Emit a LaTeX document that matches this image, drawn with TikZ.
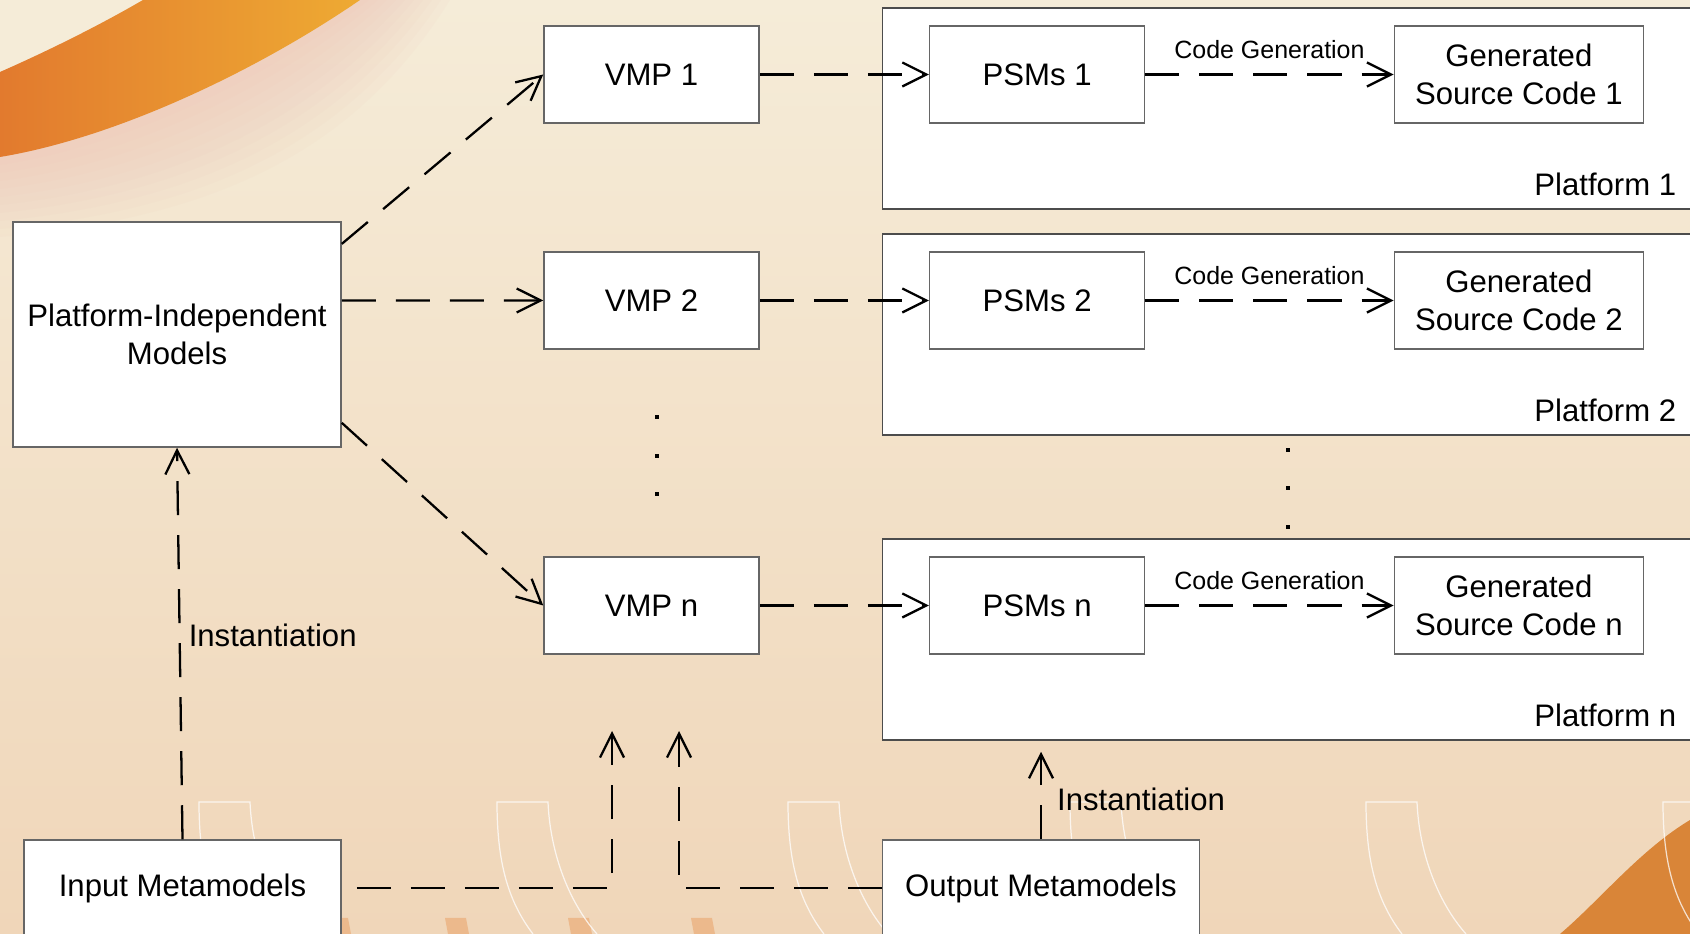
\documentclass[tikz,border=0pt]{standalone}
\usepackage{fontspec}
\setmainfont{Liberation Sans}
\usetikzlibrary{positioning}
\usetikzlibrary{calc}
\usetikzlibrary{arrows.meta}
\definecolor{bgtop}{HTML}{F5ECD8}
\definecolor{bgbot}{HTML}{F0D6B9}
\definecolor{orA}{HTML}{E27A2E}
\definecolor{orB}{HTML}{EEAA33}
\definecolor{orC}{HTML}{D98538}
\definecolor{glow}{HTML}{EFBFB3}
\definecolor{barcol}{HTML}{ECB98C}
\tikzset{
    mde diagram/.style={
            x=0.01cm,y=-0.01cm,
            every node/.style={font=\fontsize{8.85}{10.6}\selectfont},
            box/.style={draw=black!60,fill=white,align=center,inner sep=2pt},
            model/.style={box,minimum width=2.15cm,minimum height=0.97cm},
            code/.style={box,minimum width=2.49cm,minimum height=0.97cm},
            meta/.style={box,minimum width=3.17cm,minimum height=0.96cm},
            platform/.style={draw=black!70,fill=white,minimum width=8.17cm,minimum height=2.01cm},
            flow/.style={-{Straight Barb[length=2.4mm,width=2.4mm]},line width=0.65pt,dash pattern=on 0.34cm off 0.2cm},
            cg/.style={inner sep=0pt,font=\fontsize{7.1}{8.5}\selectfont},
            lbl/.style={inner sep=0pt},
            vdot/.style={fill=black,minimum size=0.04cm,inner sep=0pt},
            arch/.style={white,opacity=0.75,line width=0.35pt}
        }
    }

\begin{document}
\begin{tikzpicture}[mde diagram]
                \useasboundingbox (0,0) rectangle (1690,934);
                \clip (0,0) rectangle (1690,934);
                % slide background
                \shade [top color=bgtop,bottom color=bgbot] (0,0) rectangle (1690,934);
                \foreach \d in {100,90,...,10}
                    \fill [glow,opacity=0.07] (0,0) -- (0,157+0.8*\d) .. controls (115+\d,138+0.8*\d) and (255+\d,72+0.8*\d) .. (360+0.9*\d,0) -- cycle;
                \fill [bgtop] (0,0) -- (0,72) .. controls (50,50) and (100,25) .. (143,0) -- cycle;
                \shade [left color=orA,right color=orB] (0,72) .. controls (50,50) and (100,25) .. (143,0) -- (360,0) .. controls (255,72) and (115,138) .. (0,157) -- cycle;
                \fill [orC] (1560,934) .. controls (1600,900) and (1640,850) .. (1690,820) -- (1690,934) -- cycle;
                \foreach \b in {327,445,568,691}
                    \fill [barcol] (\b,918) -- (\b+21,918) -- (\b+24,934) -- (\b+3,934) -- cycle;
                \foreach \a in {199,497,788,1070,1366,1663}
                    \draw [arch] (\a+36,934) .. controls (\a+10,900) and (\a,860) .. (\a,802) -- (\a+51,802) .. controls (\a+53,850) and (\a+70,900) .. (\a+100,934);
                % diagram
                \node (pim) [box,minimum width=3.28cm,minimum height=2.25cm] at (177,334.5) {Platform-Independent\\Models};
                \foreach \i/\y in {1/74.5,2/300.5,n/605.5} {
                    \node (plat\i) [platform] at (1291.5,\y+34) {};
                    \node (vmp\i) [model] at (651.5,\y) {VMP \i};
                    \node (psm\i) [model,right=1.69cm of vmp\i] {PSMs \i};
                    \node (gen\i) [code,right=2.48cm of psm\i] {Generated\\Source Code \i};
                    \node [lbl,anchor=east] at ($(plat\i.south east)+(-24,-25)$) {Platform \i};
                    \draw [flow] (vmp\i) -- (psm\i);
                    \draw [flow] (psm\i) -- node [cg,midway,above=0.145cm] {Code Generation} (gen\i);
                }
                \foreach \y in {417,456,494} \node [vdot] at (657,\y) {};
                \foreach \y in {450,488,527} \node [vdot] at (1288,\y) {};
                \node (inmeta) [meta] at (182.5,888) {Input Metamodels};
                \node (outmeta) [meta] at (1041,888) {Output Metamodels};
                \coordinate (intip) at (612,731);
                \coordinate (outtip) at (679,731);
                \draw [flow] ($(pim.north east)!0.1!(pim.south east)$) -- (vmp1.west);
                \draw [flow] ($(pim.north east)!0.35!(pim.south east)$) -- (vmp2.west);
                \draw [flow] ($(pim.north east)!0.89!(pim.south east)$) -- (vmpn.west);
                \draw [flow] (inmeta.north) -- node [lbl,pos=0.52,right=0.08cm] {Instantiation} (pim.south);
                \draw [flow] (outmeta.north) -- node [lbl,pos=0.46,right=0.15cm] {Instantiation} ($(outmeta.north |- platn.south)+(0,11)$);
                \draw [flow,dash phase=0.39cm] (inmeta.east) -| (intip);
                \draw [flow] (outmeta.west) -| (outtip);
            \end{tikzpicture}
\end{document}
